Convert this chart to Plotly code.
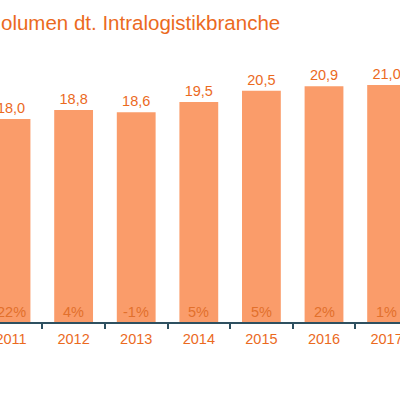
import plotly.graph_objects as go

years = ["2011", "2012", "2013", "2014", "2015", "2016", "2017"]
volumes = [18.0, 18.8, 18.6, 19.5, 20.5, 20.9, 21.0]
volume_labels = ["18,0", "18,8", "18,6", "19,5", "20,5", "20,9", "21,0"]
growth_labels = ["22%", "4%", "-1%", "5%", "5%", "2%", "1%"]
title_text = "olumen dt. Intralogistikbranche"

ORANGE = "#EB6A1E"
BAR = "#FA9C6A"
FONT = "Liberation Sans, Arial, sans-serif"

fig = go.Figure()
fig.add_trace(go.Bar(
    x=years, y=volumes, width=0.62,
    marker=dict(color=BAR, line=dict(width=0)),
    text=volume_labels, textposition="outside", textangle=0,
    constraintext="none", cliponaxis=False,
    outsidetextfont=dict(family=FONT, size=14.5, color=ORANGE),
    hoverinfo="skip",
))

# growth labels at the foot of each bar (category index positions)
for i, g in enumerate(growth_labels):
    fig.add_annotation(
        text=g, x=i, y=0, xref="x", yref="y", xanchor="center",
        yanchor="bottom", yshift=0, showarrow=False,
        font=dict(family=FONT, size=14.5, color="#E2702C"),
    )

fig.add_annotation(
    text=title_text, xref="paper", yref="paper", x=0, y=1,
    xanchor="left", yanchor="bottom", yshift=4, xshift=-1, showarrow=False,
    font=dict(family=FONT, size=20.5, color=ORANGE),
)

fig.update_layout(
    width=400, height=395,
    margin=dict(l=0, r=0, t=40, b=73, pad=0),
    plot_bgcolor="white", paper_bgcolor="white",
    showlegend=False,
    xaxis=dict(
        type="category", range=[-0.176, 6.214], automargin=False,
        tickson="boundaries", ticks="outside", ticklen=5, tickwidth=1.5,
        tickcolor="#2E5060", showline=True, linecolor="#2E5060", linewidth=1.5,
        showgrid=False, zeroline=False, ticklabelstandoff=3,
        tickfont=dict(family=FONT, size=14.5, color=ORANGE),
    ),
    yaxis=dict(range=[0, 25.0], visible=False, showgrid=False, zeroline=False,
               automargin=False),
)

fig.write_html("out.html", config={"displayModeBar": False},
               post_script="document.body.style.margin='0';")
